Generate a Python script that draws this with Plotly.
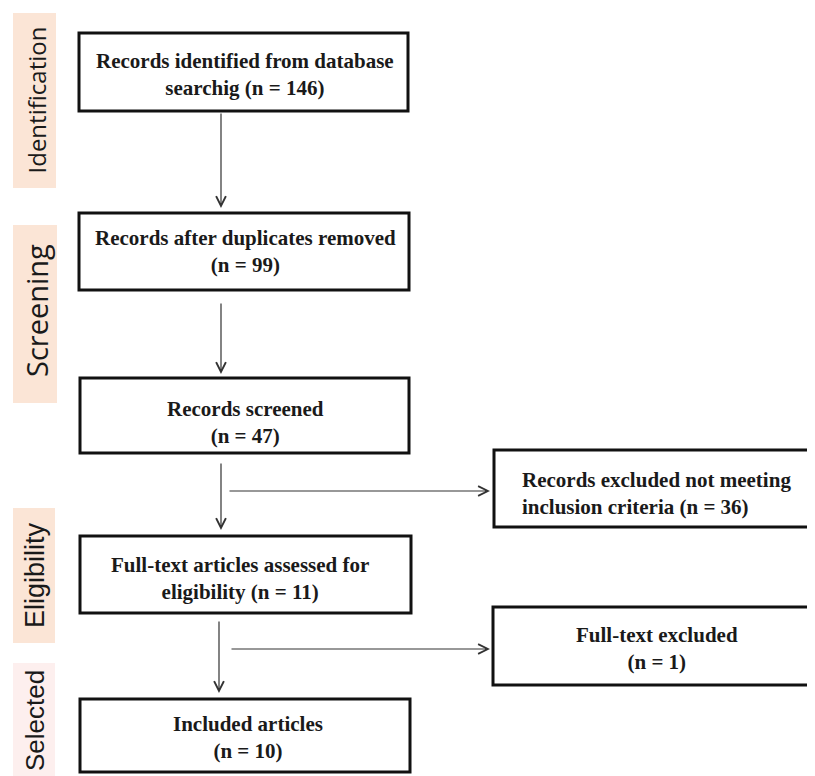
import plotly.graph_objects as go

# ---- data ----
stage_labels = ["Identification", "Screening", "Eligibility", "Selected"]
main_line1 = ["Records identified from database", "Records after duplicates removed",
              "Records screened", "Full-text articles assessed for", "Included articles"]
main_line2 = ["searchig", "", "", "eligibility", ""]
main_counts = [146, 99, 47, 11, 10]
excl_line1 = ["Records excluded not meeting", "Full-text excluded"]
excl_line2 = ["inclusion criteria", ""]
excl_counts = [36, 1]

# ---- layout geometry (page pixels; page body has an 8px margin) ----
OFF = 8
W, H = 815, 776
stage_boxes = [(13, 13, 56, 188), (13, 225, 57, 403), (13, 508, 55, 643), (13, 663, 55, 790)]
stage_fill = ["#FBE5D6", "#FBE5D6", "#FBE5D6", "#FDEFEE"]
stage_font = [("Open Sans", 24), ("Open Sans", 29), ("Liberation Sans", 27), ("Liberation Sans", 26)]
stage_text_y = [100, 311, 575, 721]
main_boxes = [(79, 33, 408, 111), (79, 213, 409, 290), (80, 378, 409, 453),
              (80, 536, 411, 613), (80, 699, 410, 772)]
main_text_pos = [(245, 74), (245, 251), (245, 422), (240, 578), (248, 737)]
excl_boxes = [(494, 450, 818, 527), (493, 607, 818, 685)]
excl_text_pos = [(520, 493, "left"), (657, 648, "center")]

fig = go.Figure()
shapes = []
annotations = []

for (x0, y0, x1, y1), fill, (fam, sz), ty, lab in zip(stage_boxes, stage_fill, stage_font,
                                                       stage_text_y, stage_labels):
    shapes.append(dict(type="rect", x0=x0, y0=y0, x1=x1, y1=y1, xref="x", yref="y",
                       fillcolor=fill, line=dict(width=0), layer="below"))
    annotations.append(dict(x=(x0 + x1) / 2 + 1, y=ty, xref="x", yref="y", text=lab,
                            textangle=-90, showarrow=False,
                            font=dict(family=fam, size=sz, color="#1a1a1a")))

def fmt(l1, l2, n):
    second = (l2 + " " if l2 else "") + f"(n = {n})"
    return f"<b>{l1}<br>{second}</b>"

for (x0, y0, x1, y1), (tx, ty), l1, l2, n in zip(main_boxes, main_text_pos, main_line1,
                                                  main_line2, main_counts):
    shapes.append(dict(type="rect", x0=x0, y0=y0, x1=x1, y1=y1, xref="x", yref="y",
                       fillcolor="white", line=dict(color="#111111", width=3)))
    annotations.append(dict(x=tx, y=ty, xref="x", yref="y", text=fmt(l1, l2, n),
                            showarrow=False, align="center",
                            font=dict(family="Liberation Serif", size=21, color="#1a1a1a")))

for (x0, y0, x1, y1), (tx, ty, al), l1, l2, n in zip(excl_boxes, excl_text_pos, excl_line1,
                                                      excl_line2, excl_counts):
    shapes.append(dict(type="rect", x0=x0, y0=y0, x1=x1, y1=y1, xref="x", yref="y",
                       fillcolor="white", line=dict(color="#111111", width=3)))
    annotations.append(dict(x=tx, y=ty, xref="x", yref="y", text=fmt(l1, l2, n),
                            showarrow=False, align=al,
                            xanchor="left" if al == "left" else "center",
                            font=dict(family="Liberation Serif", size=21, color="#1a1a1a")))

# arrows: (tail_x, tail_y, head_x, head_y)
arrows = [(221, 112, 221, 208), (221, 302, 221, 374), (221, 462, 221, 530),
          (219, 620, 219, 693), (228, 491, 490, 491), (230, 649, 490, 649)]
for ax_, ay_, hx, hy in arrows:
    annotations.append(dict(x=hx, y=hy, ax=ax_, ay=ay_, xref="x", yref="y",
                            axref="x", ayref="y", text="", showarrow=True,
                            arrowhead=5, arrowsize=1.6, arrowwidth=1.2,
                            arrowcolor="#333333", standoff=0, startstandoff=0))

fig.update_layout(
    width=W - OFF, height=H - OFF, margin=dict(l=0, r=0, t=0, b=0),
    paper_bgcolor="white", plot_bgcolor="white",
    xaxis=dict(range=[OFF, W], visible=False, fixedrange=True),
    yaxis=dict(range=[H, OFF], visible=False, fixedrange=True),
    shapes=shapes, annotations=annotations, showlegend=False,
)
fig.write_html("out.html")
